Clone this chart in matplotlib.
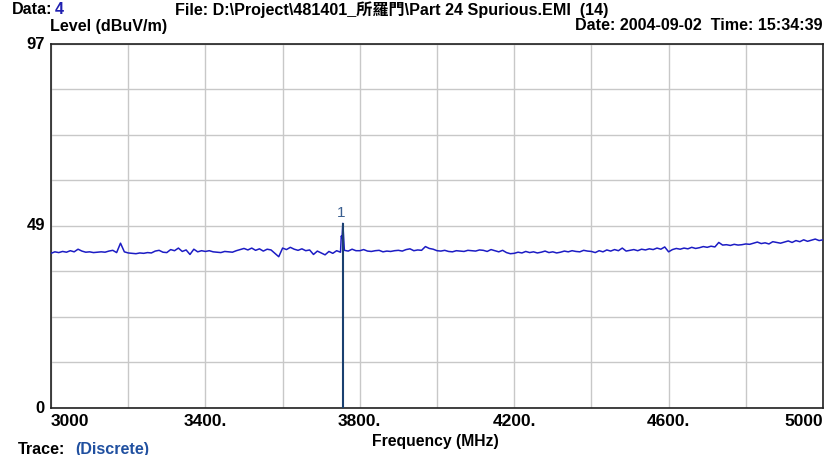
import numpy as np
import matplotlib
matplotlib.use("Agg")
from matplotlib import pyplot as plt

plt.rcParams['font.family'] = ['Liberation Sans', 'Noto Sans CJK TC', 'DejaVu Sans']

# trace, 10 MHz steps from 3000 to 5000
freq_start = 3000
freq_step = 10
level = [
    41.2, 41.6, 41.4, 41.7, 41.5, 41.9, 41.6, 42.3, 41.8, 41.5,
    41.6, 41.4, 41.5, 41.6, 41.5, 41.8, 42.0, 41.4, 43.9, 41.6,
    41.3, 41.2, 41.1, 41.3, 41.2, 41.4, 41.3, 41.8, 42.0, 41.5,
    41.4, 42.2, 41.9, 42.6, 41.7, 42.1, 40.9, 42.3, 41.6, 41.9,
    41.7, 41.9, 41.6, 41.5, 41.4, 41.7, 41.6, 41.5, 41.9, 42.2,
    42.5, 42.1, 42.6, 42.0, 42.4, 41.8, 42.3, 42.1, 41.2, 40.3,
    42.6, 42.2, 42.8, 42.3, 42.0, 42.4, 41.9, 42.1, 40.9, 41.8,
    41.3, 40.8, 41.7, 41.2, 41.9, 41.5, 42.0, 41.8, 42.3, 41.9,
    41.9, 42.2, 41.8, 41.7, 41.9, 42.0, 41.6, 41.8, 41.7, 41.9,
    42.0, 41.8, 42.2, 42.4, 41.9, 42.1, 42.0, 43.0, 42.5, 42.3,
    41.9, 41.8, 42.0, 41.7, 41.6, 41.9, 41.8, 41.7, 42.0, 41.9,
    41.8, 42.1, 42.0, 41.7, 42.2, 41.9, 41.6, 42.0, 41.4, 41.1,
    41.2, 41.5, 41.3, 41.7, 41.4, 41.6, 41.3, 41.5, 41.8, 41.4,
    41.6, 41.3, 41.5, 41.8, 41.6, 41.9, 41.7, 41.6, 42.0, 41.8,
    41.7, 41.4, 41.9, 41.6, 42.1, 41.8, 42.2, 41.9, 42.6, 41.8,
    42.0, 42.2, 41.9, 42.3, 42.1, 42.4, 42.2, 42.6, 42.3, 42.9,
    41.6, 42.2, 42.5, 42.3, 42.6, 42.4, 42.8, 42.5, 42.7, 43.0,
    42.8, 43.1, 42.9, 44.1, 43.4, 43.5, 43.3, 43.6, 43.4, 43.5,
    43.7, 43.6, 43.9, 44.2, 43.8, 44.0, 43.7, 44.3, 44.1, 43.9,
    44.2, 44.5, 44.1, 44.6, 44.3, 44.8, 44.4, 44.7, 45.0, 44.6,
    44.8,
]
# extra points around the spur
spur_freq = [3752, 3754, 3756, 3758]
spur_level = [45.8, 45.3, 49.2, 45.6]
marker_freq = 3756
marker_level = 49.2

freq = freq_start + freq_step * np.arange(len(level))
f_all = np.concatenate([freq, spur_freq])
l_all = np.concatenate([level, spur_level])
order = np.argsort(f_all, kind='stable')
f_all = f_all[order]
l_all = l_all[order]

fig = plt.figure(figsize=(8.35, 4.56), dpi=100)
ax = fig.add_axes([0.0611, 0.1031, 0.9245, 0.7985])

ax.set_xlim(3000, 5000)
ax.set_ylim(0, 97)
ax.set_xticks(np.arange(3000, 5001, 200))
ax.set_yticks(np.linspace(0, 97, 9))
ax.grid(True, color='#c8c8c8', linewidth=1.0)
ax.tick_params(length=0, labelbottom=False, labelleft=False)
for s in ax.spines.values():
    s.set_color('#202020')
    s.set_linewidth(1.2)

ax.plot(f_all, l_all, color='#1c1cc4', linewidth=1.1, zorder=3)
ax.vlines(marker_freq, 0, marker_level, color='#1a4070', linewidth=1.5, zorder=4)
ax.text(marker_freq - 4, marker_level + 1.2, '1', color='#3a5f90', fontsize=11,
        ha='center', va='bottom')

tr = ax.get_xaxis_transform()
xlabels = {3000: ('3000', 'left'), 3400: ('3400.', 'center'), 3800: ('3800.', 'center'),
           4200: ('4200.', 'center'), 4600: ('4600.', 'center'), 5000: ('5000', 'right')}
for xv, (txt, ha) in xlabels.items():
    ax.text(xv, -0.015, txt, transform=tr, ha=ha, va='top',
            fontweight='bold', fontsize=12.5)

ytr = ax.get_yaxis_transform()
for yv in [0, 49, 97]:
    ax.text(-0.008, yv, str(yv), transform=ytr, ha='right', va='center',
            fontweight='bold', fontsize=12)

hdr = dict(fontweight='bold', fontsize=11.6)
fig.text(0.014, 0.969, 'Data:', ha='left', va='baseline', **hdr)
fig.text(0.066, 0.969, '4', ha='left', va='baseline', color='#2020b0', **hdr)
fig.text(0.209, 0.967, 'File: D:\\Project\\481401_所羅門\\Part 24 Spurious.EMI  (14)',
         ha='left', va='baseline', **hdr)
fig.text(0.060, 0.933, 'Level (dBuV/m)', ha='left', va='baseline', **hdr)
fig.text(0.9856, 0.934, 'Date: 2004-09-02  Time: 15:34:39', ha='right', va='baseline', **hdr)
fig.text(0.521, 0.022, 'Frequency (MHz)', ha='center', va='baseline',
         fontweight='bold', fontsize=11.3)
fig.text(0.022, 0.004, 'Trace:', ha='left', va='baseline', **hdr)
fig.text(0.090, 0.004, '(Discrete)', ha='left', va='baseline', color='#2050a0', **hdr)

fig.savefig('out.png', dpi=100)
